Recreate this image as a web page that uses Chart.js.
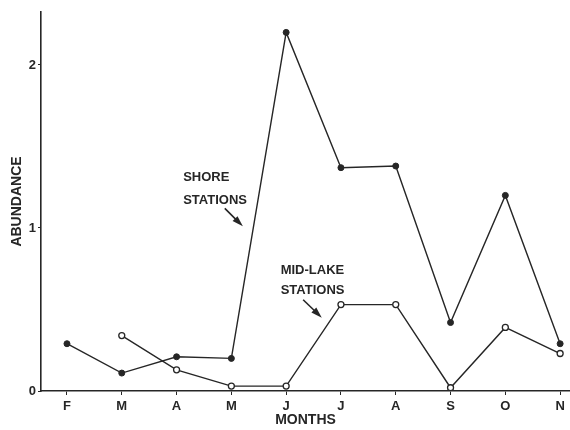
<!DOCTYPE html>
<html>
<head>
<meta charset="utf-8">
<script src="https://cdn.jsdelivr.net/npm/chart.js@4/dist/chart.umd.min.js"></script>
<style>
  html, body { margin: 0; padding: 0; background: #fff; }
  #wrap { width: 570px; height: 430px; }
</style>
</head>
<body>
<div id="wrap"><canvas id="chart" width="570" height="430"></canvas></div>
<script>
// data
const months = ['F', 'M', 'A', 'M', 'J', 'J', 'A', 'S', 'O', 'N'];
const shore = [0.29, 0.11, 0.21, 0.20, 2.20, 1.37, 1.38, 0.42, 1.20, 0.29];
const midLake = [null, 0.34, 0.13, 0.03, 0.03, 0.53, 0.53, 0.02, 0.39, 0.23];
const yTicks = [0, 1, 2];

// callout labels (data coords) and arrows
const labels = [
  { text: 'SHORE', x: 2.12, y: 1.31 },
  { text: 'STATIONS', x: 2.12, y: 1.17 },
  { text: 'MID-LAKE', x: 3.90, y: 0.74 },
  { text: 'STATIONS', x: 3.90, y: 0.62 }
];
const arrows = [
  { x1: 2.88, y1: 1.12, x2: 3.21, y2: 1.01 },
  { x1: 4.31, y1: 0.56, x2: 4.65, y2: 0.45 }
];

const ink = '#262626';
const toPts = arr => arr.map((v, i) => ({ x: i, y: v })).filter(p => p.y !== null);

const callouts = {
  id: 'callouts',
  afterDatasetsDraw(chart) {
    const { ctx, scales: { x, y } } = chart;
    ctx.save();
    ctx.fillStyle = ink;
    ctx.strokeStyle = ink;
    ctx.font = 'bold 13px "Liberation Sans", Arial, sans-serif';
    ctx.textAlign = 'left';
    ctx.textBaseline = 'middle';
    labels.forEach(l => ctx.fillText(l.text, x.getPixelForValue(l.x), y.getPixelForValue(l.y)));
    arrows.forEach(a => {
      const x1 = x.getPixelForValue(a.x1), y1 = y.getPixelForValue(a.y1);
      const x2 = x.getPixelForValue(a.x2), y2 = y.getPixelForValue(a.y2);
      const ang = Math.atan2(y2 - y1, x2 - x1);
      ctx.lineWidth = 1.6;
      ctx.beginPath(); ctx.moveTo(x1, y1); ctx.lineTo(x2 - 6 * Math.cos(ang), y2 - 6 * Math.sin(ang)); ctx.stroke();
      ctx.beginPath();
      ctx.moveTo(x2, y2);
      ctx.lineTo(x2 - 11 * Math.cos(ang) + 3.5 * Math.sin(ang), y2 - 11 * Math.sin(ang) - 3.5 * Math.cos(ang));
      ctx.lineTo(x2 - 11 * Math.cos(ang) - 3.5 * Math.sin(ang), y2 - 11 * Math.sin(ang) + 3.5 * Math.cos(ang));
      ctx.closePath(); ctx.fill();
    });
    ctx.restore();
  }
};

new Chart(document.getElementById('chart'), {
  type: 'line',
  data: {
    datasets: [
      { label: 'Shore stations', data: toPts(shore), borderColor: ink, borderWidth: 1.4,
        pointRadius: 3, pointBackgroundColor: ink, pointBorderColor: ink, pointBorderWidth: 1 },
      { label: 'Mid-lake stations', data: toPts(midLake), borderColor: ink, borderWidth: 1.4,
        pointRadius: 3, pointBackgroundColor: '#fff', pointBorderColor: ink, pointBorderWidth: 1.3 }
    ]
  },
  options: {
    responsive: false,
    animation: false,
    devicePixelRatio: 1,
    layout: { autoPadding: false, padding: { top: 12, left: 0, right: 0, bottom: 0 } },
    plugins: { legend: { display: false }, tooltip: { enabled: false } },
    elements: { line: { tension: 0 } },
    scales: {
      x: {
        type: 'linear', min: -0.474, max: 9.18,
        afterFit: s => { s.height = 39; s.paddingLeft = 0; s.paddingRight = 0; },
        afterBuildTicks: s => { s.ticks = months.map((m, i) => ({ value: i })); },
        ticks: { callback: v => months[v], color: ink, padding: 4, maxRotation: 0,
          font: { family: '"Liberation Sans", Arial, sans-serif', weight: 'bold', size: 13 } },
        grid: { drawOnChartArea: false, tickLength: 4, color: ink },
        border: { color: ink, width: 1.6 },
        title: { display: true, text: 'MONTHS', color: ink, padding: { bottom: 1 },
          font: { family: '"Liberation Sans", Arial, sans-serif', weight: 'bold', size: 14 } }
      },
      y: {
        min: 0, max: 2.325,
        afterFit: s => { s.width = 41; },
        afterBuildTicks: s => { s.ticks = yTicks.map(v => ({ value: v })); },
        ticks: { color: ink, padding: 2,
          font: { family: '"Liberation Sans", Arial, sans-serif', weight: 'bold', size: 13 } },
        grid: { drawOnChartArea: false, tickLength: 3, color: ink },
        border: { color: ink, width: 1.6 },
        title: { display: true, text: 'ABUNDANCE', color: ink, padding: { top: 9 },
          font: { family: '"Liberation Sans Narrow", "Liberation Sans", Arial, sans-serif', weight: 'bold', size: 14 } }
      }
    }
  },
  plugins: [callouts]
});
</script>
</body>
</html>
